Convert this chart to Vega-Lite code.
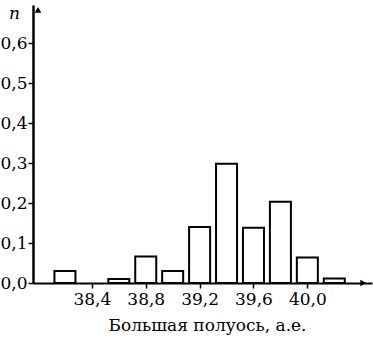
{
  "$schema": "https://vega.github.io/schema/vega-lite/v6.json",
  "width": 339,
  "height": 278,
  "autosize": "none",
  "padding": {"left": 33, "top": 5, "right": 1, "bottom": 61},
  "background": "white",
  "config": {
    "view": {"stroke": null},
    "font": "DejaVu Serif",
    "axis": {
      "grid": false,
      "domainColor": "black",
      "domainWidth": 2,
      "tickColor": "black",
      "tickWidth": 1.5,
      "tickSize": 5,
      "labelColor": "black",
      "labelFont": "DejaVu Serif",
      "labelFontSize": 17,
      "titleColor": "black",
      "titleFont": "DejaVu Serif",
      "titleFontSize": 17,
      "titleFontWeight": "normal"
    }
  },
  "datasets": {
    "hist": [
      {"a": 38.2, "n": 0.03},
      {"a": 38.6, "n": 0.01},
      {"a": 38.8, "n": 0.066},
      {"a": 39.0, "n": 0.03},
      {"a": 39.2, "n": 0.14},
      {"a": 39.4, "n": 0.298},
      {"a": 39.6, "n": 0.138},
      {"a": 39.8, "n": 0.203},
      {"a": 40.0, "n": 0.064},
      {"a": 40.2, "n": 0.011}
    ],
    "arrows": [
      {"a": 40.415, "n": 0, "shape": "triangle-right"},
      {"a": 38.0, "n": 0.683, "shape": "triangle-up"}
    ]
  },
  "layer": [
    {
      "data": {"name": "hist"},
      "mark": {"type": "bar", "size": 21, "fill": "white", "stroke": "black", "strokeWidth": 2},
      "encoding": {
        "x": {
          "field": "a",
          "type": "quantitative",
          "scale": {"domain": [38.0, 40.443], "nice": false, "zero": false},
          "axis": {
            "values": [38.4, 38.8, 39.2, 39.6, 40.0],
            "labelExpr": "replace(format(datum.value, '.1f'), '.', ',')",
            "title": "Большая полуось, а.е.",
            "titleX": 174,
            "titleAnchor": "middle",
            "labelPadding": 3,
            "titlePadding": 10,
            "labelFlush": false
          }
        },
        "y": {
          "field": "n",
          "type": "quantitative",
          "scale": {"domain": [0, 0.695], "nice": false},
          "axis": {
            "values": [0, 0.1, 0.2, 0.3, 0.4, 0.5, 0.6],
            "labelExpr": "replace(format(datum.value, '.1f'), '.', ',')",
            "title": "n",
            "titleAngle": 0,
            "titleFontStyle": "italic",
            "titleX": -19,
            "titleY": 8,
            "titleBaseline": "middle",
            "titleAlign": "center",
            "labelPadding": 1,
            "domainWidth": 2.5,
            "labelFlush": false
          }
        }
      }
    },
    {
      "data": {"name": "arrows"},
      "mark": {"type": "point", "filled": true, "color": "black", "size": 45, "opacity": 1},
      "encoding": {
        "x": {"field": "a", "type": "quantitative"},
        "y": {"field": "n", "type": "quantitative"},
        "shape": {"field": "shape", "type": "nominal", "scale": null, "legend": null}
      }
    }
  ]
}
